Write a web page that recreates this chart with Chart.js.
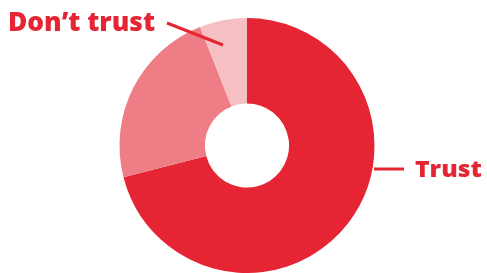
<!DOCTYPE html>
<html>
<head>
<meta charset="utf-8">
<script src="https://cdn.jsdelivr.net/npm/chart.js@4/dist/chart.umd.min.js"></script>
<style>
  html, body { margin: 0; padding: 0; background: #fff; }
  #wrap { width: 487px; height: 273px; position: relative; }
</style>
</head>
<body>
<div id="wrap"><canvas id="trust-chart"></canvas></div>
<script>
const categories = ['Trust', 'Somewhat', 'Don\u2019t trust'];
const shares = [71, 23, 6];
const sliceColors = ['#e52533', '#ef7d86', '#f6bfc3'];

const RED = '#e52533';

// callouts: text + leader line, placed by hand around the ring
const callouts = {
    'Trust': { text: { x: 415, y: 177, size: 22, width: 67 }, line: [[374, 169], [404, 169]] },
    'Don\u2019t trust': { text: { x: 8, y: 31, size: 26, width: 147 }, line: [[167, 23], [223, 45]] }
};

const calloutPlugin = {
    id: 'callouts',
    afterDraw(chart) {
        const ctx = chart.ctx;
        ctx.save();
        categories.forEach(name => {
            const c = callouts[name];
            if (!c) return;
            ctx.strokeStyle = RED;
            ctx.lineWidth = 3;
            ctx.beginPath();
            ctx.moveTo(c.line[0][0], c.line[0][1]);
            ctx.lineTo(c.line[1][0], c.line[1][1]);
            ctx.stroke();

            ctx.fillStyle = RED;
            ctx.font = '800 ' + c.text.size + 'px "Open Sans", sans-serif';
            ctx.textBaseline = 'alphabetic';
            ctx.textAlign = 'left';
            // stretch a bit so the label spans the same width as the original
            const w = ctx.measureText(name).width;
            ctx.save();
            ctx.translate(c.text.x, c.text.y);
            ctx.scale(c.text.width / w, 1);
            ctx.fillText(name, 0, 0);
            ctx.restore();
        });
        ctx.restore();
    }
};

const ctx = document.getElementById('trust-chart').getContext('2d');

new Chart(ctx, {
    type: 'doughnut',
    data: {
        labels: categories,
        datasets: [{
            data: shares,
            backgroundColor: sliceColors,
            borderWidth: 0
        }]
    },
    options: {
        responsive: true,
        maintainAspectRatio: false,
        animation: false,
        cutout: '33%',
        layout: { padding: { top: 18, bottom: 0, left: 7, right: 0 } },
        plugins: {
            legend: { display: false },
            tooltip: { enabled: false }
        }
    },
    plugins: [calloutPlugin]
});
</script>
</body>
</html>
